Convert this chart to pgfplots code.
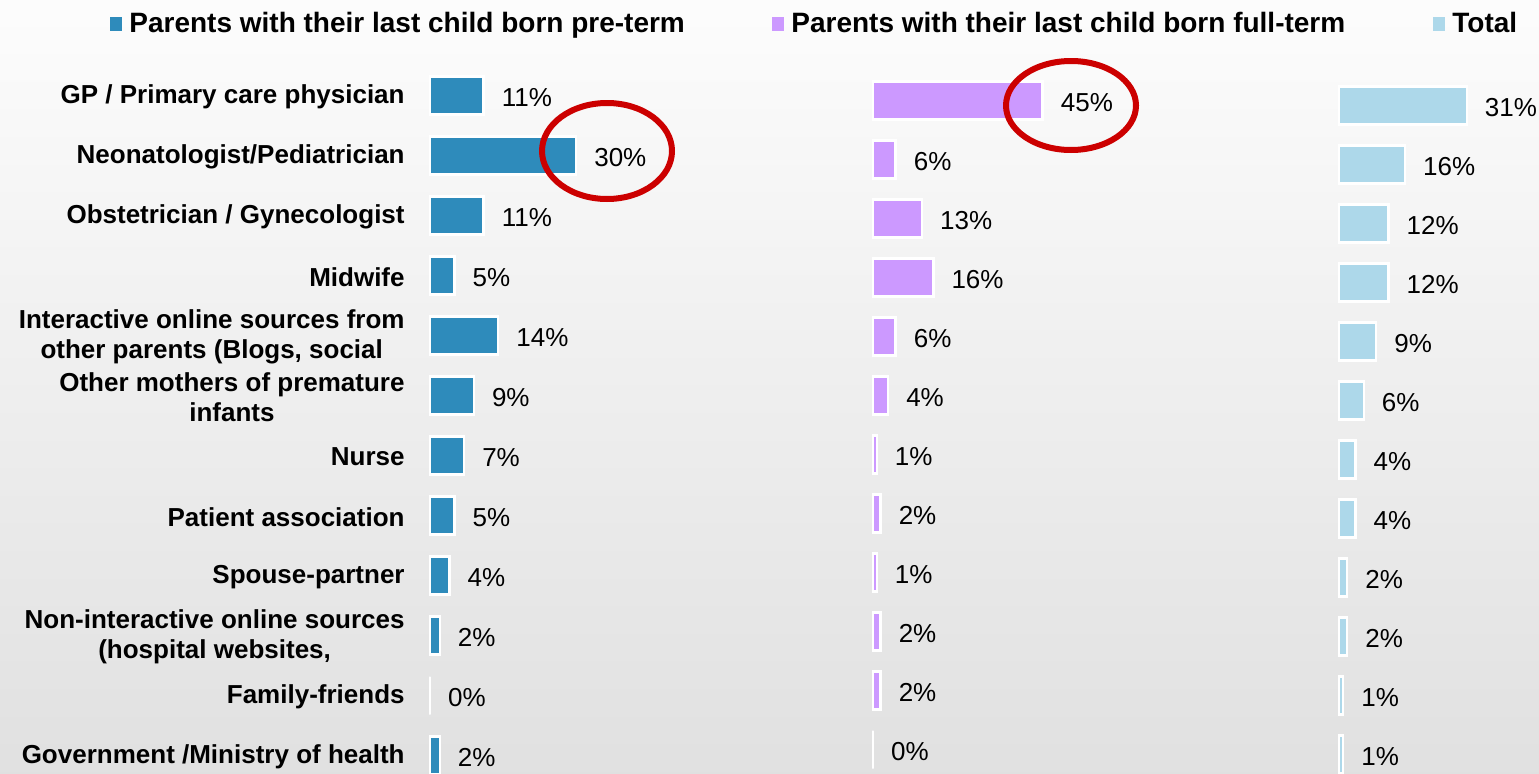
\documentclass[border=0pt]{standalone}
\usepackage{fontspec}
\setmainfont{Liberation Sans}
\usepackage{pgfplots}
\usepackage{pgfplotstable}
\pgfplotsset{compat=1.18}
\definecolor{preterm}{HTML}{2E8BBB}
\definecolor{fullterm}{HTML}{CC99FF}
\definecolor{totalc}{HTML}{ADD8EA}
\definecolor{circred}{HTML}{CC0000}

\pgfplotstableread{
idx pre full total
0 11 45 31
1 30 6 16
2 11 13 12
3 5 16 12
4 14 6 9
5 9 4 6
6 7 1 4
7 5 2 4
8 4 1 2
9 2 2 2
10 0 2 1
11 2 0 1
}\datatable

\pgfplotsset{
  panel/.style={
    xbar, bar width=19bp, y dir=reverse, enlargelimits=false,
    ymin=-0.5, ymax=11.5, xmin=0, clip=false, anchor=origin,
    point meta=x,
    nodes near coords={\pgfmathprintnumber{\pgfplotspointmeta}\%},
    nodes near coords align=horizontal,
    every node near coord/.append style={anchor=west, inner sep=0pt, xshift=8.5bp, yshift=-0.8bp,
      font=\fontsize{13bp}{15bp}\selectfont, text=black},
    /pgf/number format/assume math mode=true,
    legend image code/.code={\fill[##1,draw=none] (0bp,-3.5bp) rectangle (6bp,3.5bp);},
    legend style={draw=none, fill=none, inner sep=0pt, anchor=west,
      font=\bfseries\fontsize{14bp}{16bp}\selectfont, nodes={inner sep=0pt}, column sep=3.5bp},
  }
}

\begin{document}
\begin{tikzpicture}
\shade[top color=white!99!black, bottom color=white!88!black] (0,0) rectangle (769.5bp,-387bp);
\useasboundingbox (0,0) rectangle (769.5bp,-387bp);

% Panel 1: pre-term
\begin{axis}[panel, at={(215bp,-47.75bp)}, x=2.435bp, y=30bp, xmax=30,
  ytick={0,...,11},
  yticklabels={GP / Primary care physician, Neonatologist/Pediatrician, Obstetrician / Gynecologist, Midwife,
    {Interactive online sources from\\other parents (Blogs, social}, {Other mothers of premature\\infants},
    Nurse, Patient association, Spouse-partner, {Non-interactive online sources\\(hospital websites,},
    Family-friends, Government /Ministry of health},
  yticklabel style={anchor=east, inner sep=0pt, xshift=-12.5bp, yshift=-0.8bp, align=center,
    font=\bfseries\fontsize{13bp}{15bp}\selectfont},
  major tick length=0pt, xtick=\empty, axis line style={draw=none},
  legend style={at={(-2.190,1.0576)}}]
\addplot[fill=preterm, draw=white, line width=1.2bp] table[x=pre, y=idx] {\datatable};
\addlegendentry{Parents with their last child born pre-term}
\end{axis}

% Panel 2: full-term
\begin{axis}[panel, hide axis, at={(436.5bp,-50.25bp)}, x=1.885bp, y=29.5bp, xmax=45,
  legend style={at={(-0.5953,1.0664)}}]
\addplot[fill=fullterm, draw=white, line width=1.2bp] table[x=full, y=idx] {\datatable};
\addlegendentry{Parents with their last child born full-term}
\end{axis}

% Panel 3: total
\begin{axis}[panel, hide axis, at={(669.5bp,-52.75bp)}, x=2.06bp, y=29.5bp, xmax=31,
  legend style={at={(0.736,1.0734)}}]
\addplot[fill=totalc, draw=white, line width=1.2bp] table[x=total, y=idx] {\datatable};
\addlegendentry{Total}
\end{axis}

\draw[circred, line width=3bp] (303.5bp,-75.5bp) ellipse [x radius=32.5bp, y radius=24bp];
\draw[circred, line width=3bp] (535.5bp,-52.75bp) ellipse [x radius=32.5bp, y radius=22.25bp];
\end{tikzpicture}
\end{document}
